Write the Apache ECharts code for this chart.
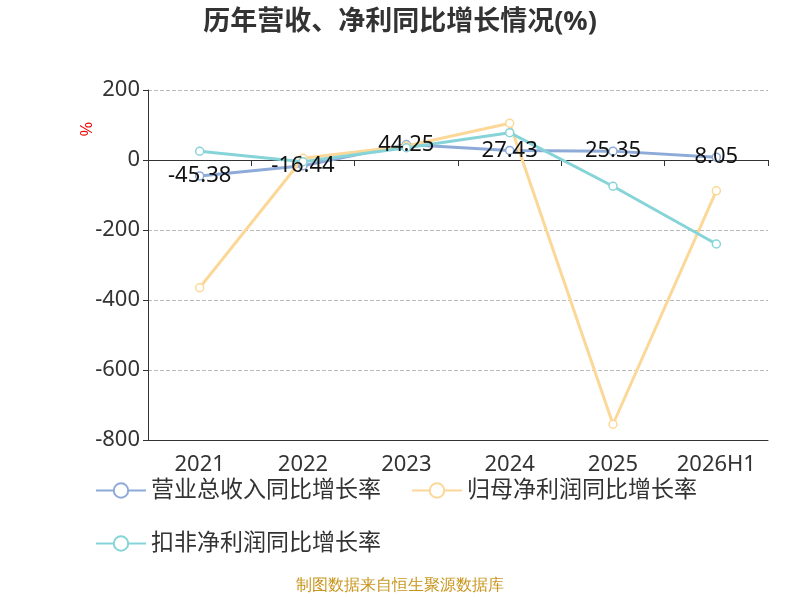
<!DOCTYPE html>
<html lang="en">
<head>
    <meta charset="UTF-8">
    <title>历年营收、净利同比增长情况</title>
    <script src="https://cdn.jsdelivr.net/npm/echarts@6/dist/echarts.min.js"></script>
</head>
<body style="margin:0">
    <div id="main" style="width:800px;height:600px;"></div>
    <script type="text/javascript">
        var years = ['2021', '2022', '2023', '2024', '2025', '2026H1'];
        var revenueGrowth = [-45.38, -16.44, 44.25, 27.43, 25.35, 8.05];
        var netProfitGrowth = [-365, 5, 40, 105, -755, -88];
        var deductedGrowth = [25, -5, 35, 78, -75, -240];
        var yTicks = [-800, -600, -400, -200, 0, 200];

        var chart = echarts.init(document.getElementById('main'));
        var lineSeries = function (name, data, color, showLabel) {
            return {
                name: name,
                type: 'line',
                data: data,
                symbol: 'circle',
                symbolSize: 8,
                lineStyle: {color: color, width: 3},
                itemStyle: {color: '#fff', borderColor: color, borderWidth: 1.5},
                label: {
                    show: showLabel,
                    position: 'inside',
                    color: '#111',
                    fontSize: 22
                }
            };
        };
        var option = {
            backgroundColor: '#fff',
            textStyle: {fontFamily: 'Noto Sans, Noto Sans CJK SC, sans-serif'},
            title: {
                text: '历年营收、净利同比增长情况(%)',
                left: 'center',
                top: 4,
                textStyle: {fontSize: 27, fontWeight: 'bold', color: '#333'}
            },
            legend: {
                left: 90,
                top: 474,
                width: 680,
                itemWidth: 50,
                itemHeight: 18,
                itemGap: 30,
                textStyle: {fontSize: 23, color: '#333'},
                data: ['营业总收入同比增长率', '归母净利润同比增长率', '扣非净利润同比增长率']
            },
            graphic: [{
                type: 'text', left: 'center', top: 578,
                style: {text: '制图数据来自恒生聚源数据库', fill: '#c8961e', fontSize: 16}
            }, {
                type: 'text', left: 80, top: 122, rotation: Math.PI / 2,
                style: {text: '%', fill: '#e00', fontSize: 16}
            }],
            grid: {left: 148, right: 32, top: 90, bottom: 160},
            xAxis: [{
                type: 'category',
                data: years,
                axisLine: {onZero: true, lineStyle: {color: '#333'}},
                axisTick: {show: true, length: 6},
                axisLabel: {show: false}
            }, {
                type: 'category',
                data: years,
                position: 'bottom',
                axisLine: {onZero: false, show: true, lineStyle: {color: '#333'}},
                axisTick: {show: false},
                axisLabel: {fontSize: 22, color: '#333', margin: 14}
            }],
            yAxis: {
                type: 'value',
                min: yTicks[0],
                max: yTicks[yTicks.length - 1],
                interval: 200,
                axisLine: {show: true, lineStyle: {color: '#333'}},
                axisTick: {show: true},
                axisLabel: {fontSize: 22, color: '#333'},
                splitLine: {lineStyle: {type: 'dashed', color: '#bbb'}}
            },
            series: [
                lineSeries('营业总收入同比增长率', revenueGrowth, '#8eaad8', true),
                lineSeries('归母净利润同比增长率', netProfitGrowth, '#fcd898', false),
                lineSeries('扣非净利润同比增长率', deductedGrowth, '#86d4d8', false)
            ]
        };
        chart.setOption(option);
    </script>
</body>
</html>
